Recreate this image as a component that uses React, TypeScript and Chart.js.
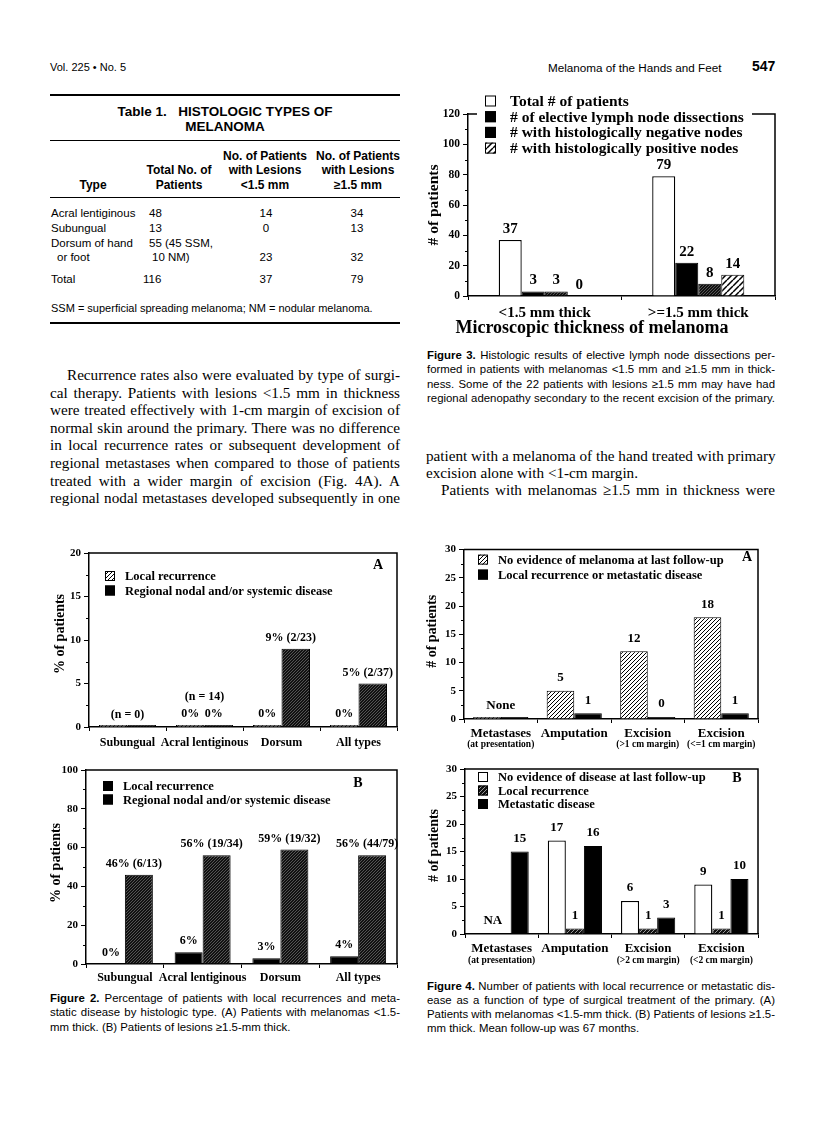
import React, { useEffect, useRef } from "react";
import { Chart, registerables } from "chart.js";
Chart.register(...registerables);

const SERIF = '"Liberation Serif", "Times New Roman", serif';
const SANS = '"Liberation Sans", Arial, Helvetica, sans-serif';

// ---------------- Figure 3 ----------------
const fig3Categories = ["<1.5 mm thick", ">=1.5 mm thick"];
const fig3SeriesNames = [
  "Total # of patients",
  "# of elective lymph node dissections",
  "# with histologically negative nodes",
  "# with histologically positive nodes",
];
const fig3Total = [37, 79];
const fig3Elective = [3, 22];
const fig3Negative = [3, 8];
const fig3Positive = [0, 14];

// ---------------- Figure 2 ----------------
const fig2Categories = ["Subungual", "Acral lentiginous", "Dorsum", "All types"];
const fig2SeriesNames = ["Local recurrence", "Regional nodal and/or systemic disease"];
const fig2aLocal = [0, 0, 0, 0];
const fig2aRegional = [0, 0, 9, 5];
const fig2aLocalLabels = ["", "0%", "0%", "0%"];
const fig2aRegionalLabels = ["", "0%", "9% (2/23)", "5% (2/37)"];
const fig2bLocal = [0, 6, 3, 4];
const fig2bRegional = [46, 56, 59, 56];
const fig2bLocalLabels = ["0%", "6%", "3%", "4%"];
const fig2bRegionalLabels = ["46% (6/13)", "56% (19/34)", "59% (19/32)", "56% (44/79)"];

// ---------------- Figure 4 ----------------
const fig4Categories = ["Metastases", "Amputation", "Excision", "Excision"];
const fig4aSubLabels = ["(at presentation)", "", "(>1 cm margin)", "(<=1 cm margin)"];
const fig4aSeriesNames = ["No evidence of melanoma at last follow-up", "Local recurrence or metastatic disease"];
const fig4aNoEvidence = [0, 5, 12, 18];
const fig4aRecurrence = [0, 1, 0, 1];
const fig4aNoEvidenceLabels = ["", "5", "12", "18"];
const fig4aRecurrenceLabels = ["", "1", "0", "1"];
const fig4bSubLabels = ["(at presentation)", "", "(>2 cm margin)", "(<2 cm margin)"];
const fig4bSeriesNames = ["No evidence of disease at last follow-up", "Local recurrence", "Metastatic disease"];
const fig4bNoEvidence = [null, 17, 6, 9];
const fig4bLocal = [null, 1, 1, 1];
const fig4bMetastatic = [15, 16, 3, 10];
const fig4bNoEvidenceLabels = ["", "17", "6", "9"];
const fig4bLocalLabels = ["", "1", "1", "1"];
const fig4bMetastaticLabels = ["15", "16", "3", "10"];

// ---------------- Table 1 ----------------
const tableTypes = ["Acral lentiginous", "Subungual", "Dorsum of hand", "or foot", "Total"];
const tableTotals = ["48", "13", "55 (45 SSM,", "10 NM)", "116"];
const tableThin = ["14", "0", "", "23", "37"];
const tableThick = ["34", "13", "", "32", "79"];

// ---------------- Text ----------------
const leftParagraph = [
  "Recurrence rates also were evaluated by type of surgi-",
  "cal therapy. Patients with lesions <1.5 mm in thickness",
  "were treated effectively with 1-cm margin of excision of",
  "normal skin around the primary. There was no difference",
  "in local recurrence rates or subsequent development of",
  "regional metastases when compared to those of patients",
  "treated with a wider margin of excision (Fig. 4A). A",
  "regional nodal metastases developed subsequently in one",
];
const rightParagraph = [
  "patient with a melanoma of the hand treated with primary",
  "excision alone with <1-cm margin.",
  "Patients with melanomas \u22651.5 mm in thickness were",
];
const fig3Caption = [
  " Histologic results of elective lymph node dissections per-",
  "formed in patients with melanomas <1.5 mm and \u22651.5 mm in thick-",
  "ness. Some of the 22 patients with lesions \u22651.5 mm may have had",
  "regional adenopathy secondary to the recent excision of the primary.",
];
const fig2Caption = [
  " Percentage of patients with local recurrences and meta-",
  "static disease by histologic type. (A) Patients with melanomas <1.5-",
  "mm thick. (B) Patients of lesions \u22651.5-mm thick.",
];
const fig4Caption = [
  " Number of patients with local recurrence or metastatic dis-",
  "ease as a function of type of surgical treatment of the primary. (A)",
  "Patients with melanomas <1.5-mm thick. (B) Patients of lesions \u22651.5-",
  "mm thick. Mean follow-up was 67 months.",
];

// ---------------- helpers ----------------
function hatchPattern(ctx: CanvasRenderingContext2D, bg: string, fg: string, size: number, lw: number) {
  const c = document.createElement("canvas");
  c.width = size;
  c.height = size;
  const g = c.getContext("2d")!;
  g.fillStyle = bg;
  g.fillRect(0, 0, size, size);
  g.strokeStyle = fg;
  g.lineWidth = lw;
  g.beginPath();
  for (const o of [-size, 0, size]) {
    g.moveTo(o, size);
    g.lineTo(o + size, 0);
  }
  g.stroke();
  return ctx.createPattern(c, "repeat") as CanvasPattern;
}

const figPlugin = {
  id: "fig",
  afterDraw(chart: any) {
    const o = chart.options.plugins.fig;
    if (!o) return;
    const ctx: CanvasRenderingContext2D = chart.ctx;
    const a = chart.chartArea;
    const xs = chart.scales.x;
    const ys = chart.scales.y;
    ctx.save();
    ctx.fillStyle = "#000";
    ctx.strokeStyle = "#000";
    if (o.frame) {
      ctx.lineWidth = 1.5;
      ctx.beginPath();
      ctx.moveTo(a.left, a.top);
      ctx.lineTo(a.right, a.top);
      ctx.lineTo(a.right, a.bottom);
      ctx.stroke();
    }
    if (o.minor) {
      ctx.lineWidth = 1;
      for (let v = o.minor; v < ys.max; v += o.minor * 2) {
        const y = Math.round(ys.getPixelForValue(v)) + 0.5;
        ctx.beginPath();
        ctx.moveTo(a.left - 3, y);
        ctx.lineTo(a.left, y);
        ctx.stroke();
      }
    }
    // value labels
    ctx.font = `bold ${o.labelSize}px ${SERIF}`;
    ctx.textAlign = "center";
    ctx.textBaseline = "middle";
    chart.data.datasets.forEach((ds: any, di: number) => {
      if (!ds.valueLabels) return;
      chart.getDatasetMeta(di).data.forEach((bar: any, i: number) => {
        const t = ds.valueLabels[i];
        if (!t) return;
        ctx.fillText(t, bar.x + (ds.labelDx || 0), bar.y - o.labelOffset);
      });
    });
    const cw = xs.getPixelForValue(1) - xs.getPixelForValue(0);
    (o.notes || []).forEach((n: any) => {
      ctx.fillText(n.text, xs.getPixelForValue(n.index) + (n.dx || 0) * cw, ys.getPixelForValue(n.value));
    });
    if (o.subLabels) {
      ctx.font = `bold ${o.subLabels.size}px ${SERIF}`;
      o.subLabels.texts.forEach((t: string, i: number) => {
        if (t) ctx.fillText(t, xs.getPixelForValue(i), a.bottom + o.subLabels.dy);
      });
    }
    if (o.xTitle) {
      ctx.font = `bold ${o.xTitle.size}px ${SERIF}`;
      ctx.fillText(o.xTitle.text, a.left + o.xTitle.x, a.bottom + o.xTitle.dy);
    }
    if (o.yTitle) {
      ctx.save();
      ctx.translate(o.yTitle.x, (a.top + a.bottom) / 2 + (o.yTitle.dy || 0));
      ctx.rotate(-Math.PI / 2);
      ctx.font = `bold ${o.yTitle.size}px ${SERIF}`;
      ctx.fillText(o.yTitle.text, 0, 0);
      ctx.restore();
    }
    if (o.legend) {
      const L = o.legend;
      if (L.bg) {
        ctx.fillStyle = "#fff";
        ctx.fillRect(a.left + L.bg[0], a.top + L.bg[1], L.bg[2], L.bg[3]);
      }
      const x0 = a.left + L.lx;
      const y0 = a.top + L.ly;
      ctx.font = `bold ${L.size}px ${SERIF}`;
      ctx.textAlign = "left";
      chart.data.datasets.forEach((ds: any, i: number) => {
        const y = y0 + i * L.dy;
        ctx.fillStyle = ds.legendColor || ds.backgroundColor;
        ctx.fillRect(x0, y - L.box / 2, L.box, L.box);
        ctx.lineWidth = 1;
        ctx.strokeStyle = "#000";
        ctx.strokeRect(x0 + 0.5, y - L.box / 2 + 0.5, L.box - 1, L.box - 1);
        ctx.fillStyle = "#000";
        ctx.fillText(ds.label, x0 + L.gap, y + 1);
      });
    }
    if (o.letter) {
      ctx.fillStyle = "#000";
      ctx.textAlign = "center";
      ctx.font = `bold ${o.letter.size}px ${SERIF}`;
      ctx.fillText(o.letter.text, a.right - o.letter.dxr, a.top + o.letter.dy);
    }
    ctx.restore();
  },
};

function baseOptions(p: any) {
  return {
    animation: false,
    responsive: false,
    maintainAspectRatio: false,
    events: [],
    layout: { padding: { top: p.padTop, right: p.padRight, left: 0, bottom: 0 } },
    datasets: {
      bar: { categoryPercentage: p.catPct, barPercentage: 1, minBarLength: p.minBar || 0, borderColor: "#000", borderWidth: 1 },
    },
    plugins: { legend: { display: false }, tooltip: { enabled: false }, fig: p.fig },
    scales: {
      x: {
        offset: true,
        grid: { offset: true, drawOnChartArea: false, drawTicks: true, tickLength: 4, color: "#000", lineWidth: 1 },
        border: { color: "#000", width: 1.5 },
        ticks: {
          color: "#000",
          font: { family: SERIF, size: p.catFont, weight: "bold" },
          padding: p.catPad,
          maxRotation: 0,
          minRotation: 0,
          autoSkip: false,
        },
        afterFit: (s: any) => {
          s.height = p.xHeight;
        },
      },
      y: {
        min: 0,
        max: p.yMax,
        grid: { drawOnChartArea: false, tickLength: 5, color: "#000", lineWidth: 1 },
        border: { color: "#000", width: 1.5 },
        ticks: { stepSize: p.yStep, color: "#000", font: { family: SERIF, size: p.tickFont, weight: "bold" }, padding: 3 },
        afterFit: (s: any) => {
          s.width = p.yWidth;
        },
      },
    },
  };
}

function fig3Config(ctx: CanvasRenderingContext2D) {
  const neg = hatchPattern(ctx, "#111", "#666", 3, 0.8);
  const pos = hatchPattern(ctx, "#fff", "#000", 6, 1.5);
  return {
    type: "bar",
    data: {
      labels: fig3Categories,
      datasets: [
        { label: fig3SeriesNames[0], data: fig3Total, backgroundColor: "#fff", borderWidth: 1.3, valueLabels: fig3Total.map(String) },
        { label: fig3SeriesNames[1], data: fig3Elective, backgroundColor: "#000", valueLabels: fig3Elective.map(String) },
        { label: fig3SeriesNames[2], data: fig3Negative, backgroundColor: neg, legendColor: "#000", valueLabels: fig3Negative.map(String) },
        { label: fig3SeriesNames[3], data: fig3Positive, backgroundColor: pos, valueLabels: fig3Positive.map(String) },
      ],
    },
    options: baseOptions({
      padTop: 26, padRight: 40, yWidth: 53, xHeight: 44, yMax: 120, yStep: 20, tickFont: 11.5, catFont: 15, catPad: 4, catPct: 0.6,
      fig: {
        frame: true, minor: 10, labelSize: 15, labelOffset: 11,
        yTitle: { text: "# of patients", x: 19, dy: 0, size: 15.5 },
        xTitle: { text: "Microscopic thickness of melanoma", x: 124, dy: 32, size: 18 },
        legend: { lx: 17, ly: -13, dy: 15.7, box: 11, gap: 25, size: 15.5, bg: [9, -22, 275, 64] },
      },
    }),
    plugins: [figPlugin],
  };
}

function fig2aConfig(ctx: CanvasRenderingContext2D) {
  const light = hatchPattern(ctx, "#fff", "#000", 4, 1);
  const dark = hatchPattern(ctx, "#111", "#666", 3, 0.8);
  return {
    type: "bar",
    data: {
      labels: fig2Categories,
      datasets: [
        { label: fig2SeriesNames[0], data: fig2aLocal, backgroundColor: light, valueLabels: fig2aLocalLabels },
        { label: fig2SeriesNames[1], data: fig2aRegional, backgroundColor: dark, legendColor: "#000", valueLabels: fig2aRegionalLabels, labelDx: -5 },
      ],
    },
    options: baseOptions({
      padTop: 13, padRight: 13, yWidth: 89, xHeight: 38, yMax: 20, yStep: 5, tickFont: 11, catFont: 12, catPad: 5, catPct: 0.74, minBar: 2,
      fig: {
        frame: true, minor: 2.5, labelSize: 12, labelOffset: 11,
        yTitle: { text: "% of patients", x: 60, dy: -6, size: 14 },
        legend: { lx: 16, ly: 23, dy: 14.5, box: 10, gap: 20, size: 12.5 },
        letter: { text: "A", dxr: 19, dy: 12, size: 14 },
        notes: [
          { index: 0, value: 1.4, text: "(n = 0)" },
          { index: 1, value: 3.45, text: "(n = 14)" },
        ],
      },
    }),
    plugins: [figPlugin],
  };
}

function fig2bConfig(ctx: CanvasRenderingContext2D) {
  const dark = hatchPattern(ctx, "#111", "#666", 3, 0.8);
  return {
    type: "bar",
    data: {
      labels: fig2Categories,
      datasets: [
        { label: fig2SeriesNames[0], data: fig2bLocal, backgroundColor: "#000", valueLabels: fig2bLocalLabels },
        { label: fig2SeriesNames[1], data: fig2bRegional, backgroundColor: dark, legendColor: "#000", valueLabels: fig2bRegionalLabels, labelDx: -5 },
      ],
    },
    options: baseOptions({
      padTop: 13, padRight: 13, yWidth: 86, xHeight: 28, yMax: 100, yStep: 20, tickFont: 11, catFont: 12, catPad: 3, catPct: 0.72,
      fig: {
        frame: true, minor: 10, labelSize: 12, labelOffset: 11,
        yTitle: { text: "% of patients", x: 56, dy: -4, size: 14 },
        legend: { lx: 17, ly: 16, dy: 13.5, box: 10, gap: 20, size: 12.5 },
        letter: { text: "B", dxr: 39, dy: 13, size: 14 },
      },
    }),
    plugins: [figPlugin],
  };
}

function fig4aConfig(ctx: CanvasRenderingContext2D) {
  const light = hatchPattern(ctx, "#fff", "#000", 4, 1);
  return {
    type: "bar",
    data: {
      labels: fig4Categories,
      datasets: [
        { label: fig4aSeriesNames[0], data: fig4aNoEvidence, backgroundColor: light, valueLabels: fig4aNoEvidenceLabels },
        { label: fig4aSeriesNames[1], data: fig4aRecurrence, backgroundColor: "#000", valueLabels: fig4aRecurrenceLabels },
      ],
    },
    options: baseOptions({
      padTop: 7, padRight: 57, yWidth: 49, xHeight: 36, yMax: 30, yStep: 5, tickFont: 11, catFont: 13, catPad: 3, catPct: 0.75, minBar: 2,
      fig: {
        frame: true, minor: 2.5, labelSize: 13, labelOffset: 13,
        yTitle: { text: "# of patients", x: 17, dy: -3, size: 14 },
        legend: { lx: 14, ly: 10, dy: 15, box: 10, gap: 20, size: 12.5 },
        letter: { text: "A", dxr: 11, dy: 8, size: 14 },
        subLabels: { texts: fig4aSubLabels, dy: 26, size: 9.5 },
        notes: [{ index: 0, value: 2.4, text: "None" }],
      },
    }),
    plugins: [figPlugin],
  };
}

function fig4bConfig(ctx: CanvasRenderingContext2D) {
  const dark = hatchPattern(ctx, "#111", "#999", 4, 1);
  return {
    type: "bar",
    data: {
      labels: fig4Categories,
      datasets: [
        { label: fig4bSeriesNames[0], data: fig4bNoEvidence, backgroundColor: "#fff", borderWidth: 1.3, valueLabels: fig4bNoEvidenceLabels },
        { label: fig4bSeriesNames[1], data: fig4bLocal, backgroundColor: dark, valueLabels: fig4bLocalLabels },
        { label: fig4bSeriesNames[2], data: fig4bMetastatic, backgroundColor: "#000", valueLabels: fig4bMetastaticLabels },
      ],
    },
    options: baseOptions({
      padTop: 12, padRight: 57, yWidth: 50, xHeight: 36, yMax: 30, yStep: 5, tickFont: 11, catFont: 13, catPad: 3, catPct: 0.74,
      fig: {
        frame: true, minor: 2.5, labelSize: 13, labelOffset: 13,
        yTitle: { text: "# of patients", x: 19, dy: -6, size: 14 },
        legend: { lx: 13, ly: 8, dy: 13.5, box: 10, gap: 20, size: 12.5 },
        letter: { text: "B", dxr: 21, dy: 9, size: 14 },
        subLabels: { texts: fig4bSubLabels, dy: 27, size: 9.5 },
        notes: [{ index: 0, dx: -0.12, value: 2.5, text: "NA" }],
      },
    }),
    plugins: [figPlugin],
  };
}

function ChartBox({ left, top, width, height, build }: any) {
  const ref = useRef<HTMLCanvasElement>(null);
  useEffect(() => {
    const canvas = ref.current!;
    const ctx = canvas.getContext("2d")!;
    const chart = new Chart(ctx, build(ctx) as any);
    return () => chart.destroy();
  }, []);
  return (
    <canvas
      ref={ref}
      width={width}
      height={height}
      style={{ position: "absolute", left, top, width, height, display: "block" }}
    />
  );
}

function Txt({ x, y, w, size, family = SANS, bold = false, align = "left", justify = false, lh, children }: any) {
  const h = lh || Math.round(size * 1.3);
  const style: any = {
    position: "absolute",
    left: x,
    top: y - h / 2,
    height: h,
    lineHeight: h + "px",
    fontSize: size,
    fontFamily: family,
    fontWeight: bold ? "bold" : "normal",
    whiteSpace: "nowrap",
    color: "#000",
  };
  if (w !== undefined) style.width = w;
  if (justify) {
    style.textAlign = "justify";
    style.textAlignLast = "justify";
  } else style.textAlign = align;
  return <div style={style}>{children}</div>;
}

function Rule({ x, y, w, t }: any) {
  return <div style={{ position: "absolute", left: x, top: y - t / 2, width: w, height: t, background: "#000" }} />;
}

function Caption({ label, lines, x, y0, w, step, justifyLast }: any) {
  return (
    <>
      {lines.map((l: string, i: number) => (
        <Txt key={i} x={x} y={y0 + i * step} w={w} size={11.4} justify={i < lines.length - 1 || justifyLast}>
          {i === 0 ? (
            <>
              <b>{label}</b>
              {l}
            </>
          ) : (
            l
          )}
        </Txt>
      ))}
    </>
  );
}

export default function App() {
  const rowY = [213, 228, 243, 257, 279];
  return (
    <div style={{ position: "absolute", left: 0, top: 0, width: 816, height: 1147, background: "#fff", overflow: "hidden" }}>
      {/* running header */}
      <Txt x={50} y={67} size={11}>Vol. 225 {"\u2022"} No. 5</Txt>
      <Txt x={548} y={67} size={11.7}>Melanoma of the Hands and Feet</Txt>
      <Txt x={752} y={66} size={14} bold>547</Txt>

      {/* Table 1 */}
      <Rule x={50} y={95} w={350} t={2} />
      <Txt x={50} y={112} w={350} size={13.5} bold align="center">
        Table 1.{"\u00a0\u00a0"} HISTOLOGIC TYPES OF
      </Txt>
      <Txt x={50} y={127} w={350} size={13.5} bold align="center">
        MELANOMA
      </Txt>
      <Rule x={50} y={140} w={350} t={1} />
      <Txt x={205} y={156} w={120} size={12} bold align="center">No. of Patients</Txt>
      <Txt x={298} y={156} w={120} size={12} bold align="center">No. of Patients</Txt>
      <Txt x={119} y={170} w={120} size={12} bold align="center">Total No. of</Txt>
      <Txt x={205} y={170} w={120} size={12} bold align="center">with Lesions</Txt>
      <Txt x={298} y={170} w={120} size={12} bold align="center">with Lesions</Txt>
      <Txt x={53} y={185} w={80} size={12} bold align="center">Type</Txt>
      <Txt x={119} y={185} w={120} size={12} bold align="center">Patients</Txt>
      <Txt x={205} y={185} w={120} size={12} bold align="center">{"<1.5 mm"}</Txt>
      <Txt x={298} y={185} w={120} size={12} bold align="center">{"\u22651.5 mm"}</Txt>
      <Rule x={50} y={197} w={350} t={1} />
      {tableTypes.map((t, i) => (
        <Txt key={"t" + i} x={i === 3 ? 57 : 51} y={rowY[i]} size={11.5}>{t}</Txt>
      ))}
      {tableTotals.map((t, i) => (
        <Txt key={"n" + i} x={i === 4 ? 143 : i === 3 ? 152 : 149} y={rowY[i]} size={11.5}>{t}</Txt>
      ))}
      {tableThin.map((t, i) => (
        <Txt key={"a" + i} x={226} y={rowY[i]} w={80} size={11.5} align="center">{t}</Txt>
      ))}
      {tableThick.map((t, i) => (
        <Txt key={"b" + i} x={317} y={rowY[i]} w={80} size={11.5} align="center">{t}</Txt>
      ))}
      <Txt x={51} y={308} size={11}>SSM = superficial spreading melanoma; NM = nodular melanoma.</Txt>
      <Rule x={50} y={323} w={350} t={2} />

      {/* left paragraph */}
      {leftParagraph.map((l, i) => (
        <Txt key={"lp" + i} x={i === 0 ? 67 : 50} y={375 + i * 17.6} w={i === 0 ? 333 : 350} size={15.2} family={SERIF} justify>
          {l}
        </Txt>
      ))}

      {/* right paragraph */}
      <Txt x={426} y={456} w={349} size={15.2} family={SERIF} justify>{rightParagraph[0]}</Txt>
      <Txt x={426} y={473} size={15.2} family={SERIF}>{rightParagraph[1]}</Txt>
      <Txt x={441} y={490} w={334} size={15.2} family={SERIF} justify>{rightParagraph[2]}</Txt>

      {/* captions */}
      <Caption label="Figure 3." lines={fig3Caption} x={427} y0={355} w={348} step={14.5} justifyLast />
      <Caption label="Figure 2." lines={fig2Caption} x={50} y0={998} w={350} step={14.5} />
      <Caption label="Figure 4." lines={fig4Caption} x={427} y0={986} w={348} step={14.3} />

      {/* charts */}
      <ChartBox left={415} top={88} width={400} height={252} build={fig3Config} />
      <ChartBox left={0} top={540} width={410} height={225} build={fig2aConfig} />
      <ChartBox left={0} top={757} width={410} height={235} build={fig2bConfig} />
      <ChartBox left={415} top={540} width={400} height={215} build={fig4aConfig} />
      <ChartBox left={415} top={757} width={400} height={213} build={fig4bConfig} />
    </div>
  );
}
